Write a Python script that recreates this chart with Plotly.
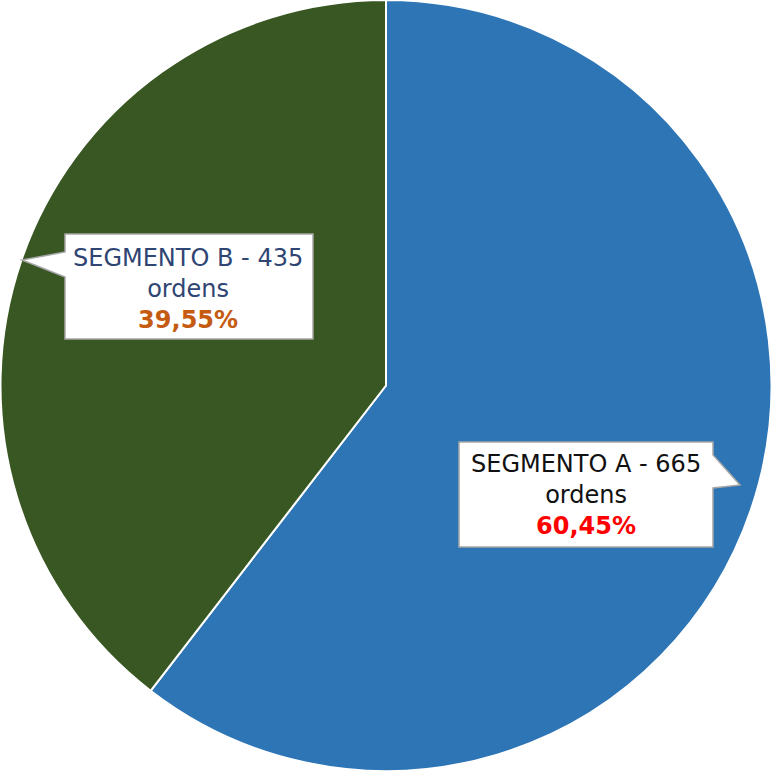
import plotly.graph_objects as go

labels = ["SEGMENTO A", "SEGMENTO B"]
values = [665, 435]
pct_text = ["60,45%", "39,55%"]
colors = ["#2E75B6", "#385723"]

W, H = 772, 771

def px(x):
    return x / W

def py(y):
    return 1 - y / H

fig = go.Figure(go.Pie(
    labels=labels, values=values, sort=False, direction="clockwise", rotation=0,
    marker=dict(colors=colors, line=dict(color="white", width=2)),
    textinfo="none", hoverinfo="label+value+percent", showlegend=False,
    domain=dict(x=[0, 1], y=[0, 1]),
))

def callout(pts):
    d = "M " + " L ".join(f"{px(x):.5f},{py(y):.5f}" for x, y in pts) + " Z"
    return dict(type="path", xref="paper", yref="paper", path=d,
                fillcolor="white", line=dict(color="#A6A6A6", width=1.5), layer="above")

shapes = [
    callout([(65, 234), (313, 234), (313, 339), (65, 339), (65, 277), (22, 260), (65, 252)]),
    callout([(459, 442), (713, 442), (713, 455), (740, 485), (713, 488), (713, 547), (459, 547)]),
]

font = "Century Gothic, DejaVu Sans, sans-serif"
annotations = [
    dict(x=px(188), y=py(289), xref="paper", yref="paper", showarrow=False,
         xanchor="center", yanchor="middle",
         text=f"{labels[1]} - {values[1]}<br>ordens<br><b><span style='color:#C55A11'>{pct_text[1]}</span></b>",
         font=dict(family=font, size=24, color="#2F4573"), align="center"),
    dict(x=px(586), y=py(495), xref="paper", yref="paper", showarrow=False,
         xanchor="center", yanchor="middle",
         text=f"{labels[0]} - {values[0]}<br>ordens<br><b><span style='color:#FF0000'>{pct_text[0]}</span></b>",
         font=dict(family=font, size=24, color="#111111"), align="center"),
]

fig.update_layout(
    width=W, height=H, margin=dict(l=0, r=0, t=0, b=0),
    paper_bgcolor="white", plot_bgcolor="white",
    shapes=shapes, annotations=annotations,
)

fig.write_html("out.html", config={"displayModeBar": False},
               post_script="document.body.style.margin='0';document.body.style.overflow='hidden';")
